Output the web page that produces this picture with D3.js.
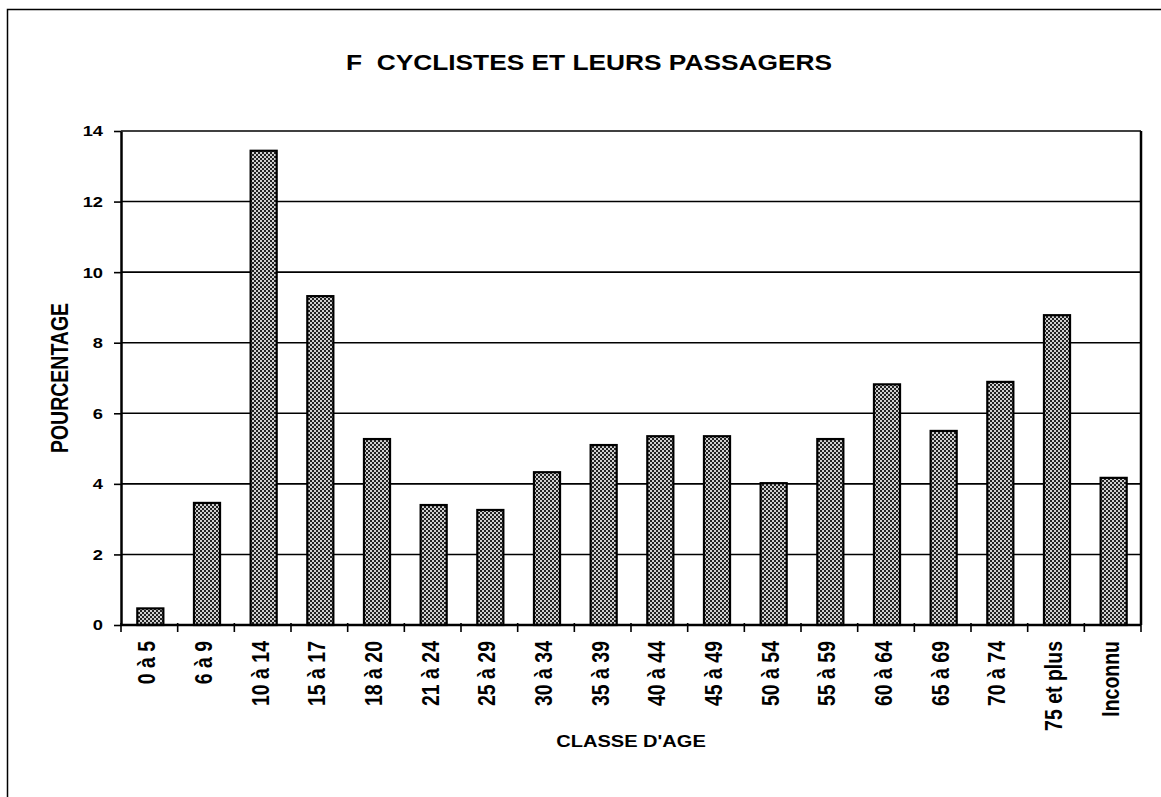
<!DOCTYPE html>
<html>
<head>
<meta charset="utf-8">
<script src="https://cdn.jsdelivr.net/npm/d3@7"></script>
<style>
  html, body { margin: 0; padding: 0; background: #fff; }
  svg { display: block; }
  text { font-family: "Liberation Sans", Arial, sans-serif; font-weight: bold; fill: #000; }
</style>
</head>
<body>
<script>
const categories = ["0 à 5","6 à 9","10 à 14","15 à 17","18 à 20","21 à 24","25 à 29","30 à 34","35 à 39","40 à 44","45 à 49","50 à 54","55 à 59","60 à 64","65 à 69","70 à 74","75 et plus","Inconnu"];
const values = [0.47,3.46,13.44,9.32,5.27,3.40,3.26,4.33,5.10,5.35,5.35,4.02,5.27,6.82,5.50,6.89,8.78,4.17];
const yTicks = [0,2,4,6,8,10,12,14];
const title = "F  CYCLISTES ET LEURS PASSAGERS";
const xTitle = "CLASSE D'AGE";
const yTitle = "POURCENTAGE";

const W = 1161, H = 797;
const SX = 1.18; // horizontal stretch of the glyphs
const plot = {left: 121, right: 1141, top: 131, bottom: 625};

const svg = d3.select("body").append("svg").attr("width", W).attr("height", H);

const defs = svg.append("defs");
const pat = defs.append("pattern").attr("id","dots").attr("patternUnits","userSpaceOnUse")
  .attr("width",4).attr("height",4);
pat.append("rect").attr("width",4).attr("height",4).attr("fill","#222");
pat.append("rect").attr("x",0).attr("y",0).attr("width",2).attr("height",2).attr("fill","#d0d0d0");
pat.append("rect").attr("x",2).attr("y",2).attr("width",2).attr("height",2).attr("fill","#d0d0d0");

// outer frame
svg.append("rect").attr("x",7.5).attr("y",9.5).attr("width",W+20).attr("height",H+20)
  .attr("fill","none").attr("stroke","#000").attr("stroke-width",1.5);

const x = d3.scaleBand().domain(categories).range([plot.left, plot.right]).padding(0);
const y = d3.scaleLinear().domain([0,14]).range([plot.bottom, plot.top]);

// gridlines
svg.append("g").selectAll("line").data(yTicks.filter(d => d > 0)).join("line")
  .attr("x1", plot.left).attr("x2", plot.right)
  .attr("y1", d => y(d)).attr("y2", d => y(d))
  .attr("stroke","#000").attr("stroke-width",1.6);

// bars
const bw = x.bandwidth() * 0.46;
svg.append("g").selectAll("rect").data(values).join("rect")
  .attr("x", (d,i) => x(categories[i]) + x.bandwidth()/2 - bw/2 + 1)
  .attr("y", d => y(d))
  .attr("width", bw)
  .attr("height", d => y(0) - y(d))
  .attr("fill","url(#dots)")
  .attr("stroke","#000").attr("stroke-width",2.2);

// right border
svg.append("line").attr("x1", plot.right).attr("x2", plot.right)
  .attr("y1", plot.top).attr("y2", plot.bottom)
  .attr("stroke","#000").attr("stroke-width",2.5);

// y axis
const yAxis = svg.append("g").attr("transform", `translate(${plot.left},0)`)
  .call(d3.axisLeft(y).tickValues(yTicks).tickSize(7).tickSizeOuter(0).tickPadding(11));
yAxis.select(".domain").attr("stroke","#000").attr("stroke-width",2.5);
yAxis.selectAll(".tick line").attr("stroke","#000").attr("stroke-width",1.6);
yAxis.selectAll(".tick text").attr("font-size", 15.5)
  .attr("transform", function() {
    const xx = +d3.select(this).attr("x");
    return `translate(${xx},0) scale(${SX},1) translate(${-xx},0)`;
  })
  .style("font-family","Liberation Sans, Arial, sans-serif").style("font-weight","bold");

// x axis with ticks at band boundaries
const xb = svg.append("g");
xb.append("line").attr("x1", plot.left).attr("x2", plot.right)
  .attr("y1", plot.bottom).attr("y2", plot.bottom)
  .attr("stroke","#000").attr("stroke-width",2.5);
const bounds = categories.map(c => x(c)).concat([plot.right]);
xb.selectAll("line.tk").data(bounds).join("line").attr("class","tk")
  .attr("x1", d => d).attr("x2", d => d)
  .attr("y1", plot.bottom - 2).attr("y2", plot.bottom + 7)
  .attr("stroke","#000").attr("stroke-width",1.6);
xb.selectAll("text").data(categories).join("text")
  .attr("transform", d => `translate(${x(d) + x.bandwidth()/2 + 6},641) scale(${SX},1) rotate(-90)`)
  .attr("text-anchor","end")
  .attr("font-size", 19.5)
  .text(d => d);

// title
svg.append("text").attr("transform", `translate(589,70) scale(${SX},1)`)
  .attr("text-anchor","middle").attr("font-size", 22.3)
  .attr("xml:space","preserve").style("white-space","pre").text(title);

// x title
svg.append("text").attr("transform", `translate(631,747) scale(${SX},1)`)
  .attr("text-anchor","middle").attr("font-size", 17).text(xTitle);

// y title
svg.append("text").attr("transform", `translate(68,378) scale(${SX},1) rotate(-90)`)
  .attr("text-anchor","middle").attr("font-size", 19.5).text(yTitle);
</script>
</body>
</html>
